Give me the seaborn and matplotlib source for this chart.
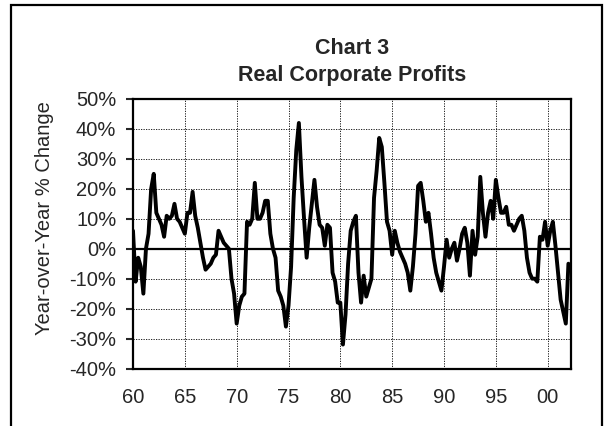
import numpy as np
import pandas as pd
import matplotlib
matplotlib.use("Agg")
import matplotlib.pyplot as plt
from matplotlib.patches import Rectangle
from matplotlib.ticker import PercentFormatter
import seaborn as sns

# Real corporate profits, year-over-year % change, quarterly from 1960Q1
profit_yoy = [
    6, -11, -3, -6, -15, 0, 5, 20, 25, 12,
    10, 8, 4, 11, 10, 11, 15, 10, 9, 7,
    5, 12, 12, 19, 11, 7, 2, -3, -7, -6,
    -5, -3, -2, 6, 4, 2, 1, 0, -10, -15,
    -25, -19, -16, -15, 9, 8, 10, 22, 10, 10,
    12, 16, 16, 5, 0, -3, -14, -16, -19, -26,
    -19, -6, 17, 33, 42, 24, 10, -3, 7, 15,
    23, 14, 8, 7, 1, 8, 7, -8, -11, -18,
    -18, -32, -22, -5, 6, 9, 11, -8, -18, -9,
    -16, -13, -10, 17, 26, 37, 34, 22, 9, 6,
    -2, 6, 2, -1, -3, -5, -8, -14, -6, 5,
    21, 22, 16, 9, 12, 5, -3, -8, -11, -14,
    -6, 3, -3, 0, 2, -4, 0, 5, 7, 2,
    -9, 6, -2, 4, 24, 12, 4, 12, 16, 10,
    23, 17, 12, 12, 14, 8, 8, 6, 8, 10,
    11, 6, -3, -8, -10, -10, -11, 4, 3, 9,
    1, 6, 9, 1, -8, -17, -21, -25, -5,
]
start_year = 1960
tick_years = [1960, 1965, 1970, 1975, 1980, 1985, 1990, 1995, 2000]
tick_labels = ['60', '65', '70', '75', '80', '85', '90', '95', '00']
y_ticks = [-40, -30, -20, -10, 0, 10, 20, 30, 40, 50]

df = pd.DataFrame({'value': profit_yoy})
df['year'] = start_year + df.index / 4

sns.set_style("white")
plt.rcParams['font.family'] = ['Liberation Sans', 'DejaVu Sans']
plt.rcParams['axes.unicode_minus'] = False

fig = plt.figure(figsize=(6.04, 4.26), dpi=100)
ax = fig.add_axes([133/604, 1-368.5/426, (571-133)/604, (368.5-99)/426])

sns.lineplot(data=df, x='year', y='value', ax=ax, color='black', linewidth=2.8)

ax.set_xlim(start_year, 2002.25)
ax.set_ylim(-40, 50)
ax.set_xticks(tick_years)
ax.set_xticklabels(tick_labels)
ax.set_yticks(y_ticks)
ax.yaxis.set_major_formatter(PercentFormatter(decimals=0))
ax.set_xlabel('')
ax.set_ylabel('')

ax.grid(True, color='black', linestyle=(0, (1.5, 1.5)), linewidth=0.6)
ax.axhline(0, color='black', linewidth=1.6, zorder=1.5)
for s in ax.spines.values():
    s.set_color('black')
    s.set_linewidth(1.6)
ax.tick_params(axis='y', direction='out', length=5, width=1.5, pad=7, labelsize=14.5, left=True)
ax.tick_params(axis='x', length=0, pad=14, labelsize=14.5)

fig.text(352/604, 1-48/426, 'Chart 3', ha='center', va='center', fontsize=15.5, fontweight='bold')
fig.text(352/604, 1-76/426, 'Real Corporate Profits', ha='center', va='center', fontsize=15.5, fontweight='bold')
fig.text(45/604, 1-218/426, 'Year-over-Year % Change', rotation=90, ha='center', va='center', fontsize=14.5)

fig.patches.append(Rectangle((11/604, -0.1), 591/604, 1.1 - 5/426, transform=fig.transFigure,
                             fill=False, edgecolor='black', linewidth=1.6))

fig.savefig('out.png', dpi=100)
